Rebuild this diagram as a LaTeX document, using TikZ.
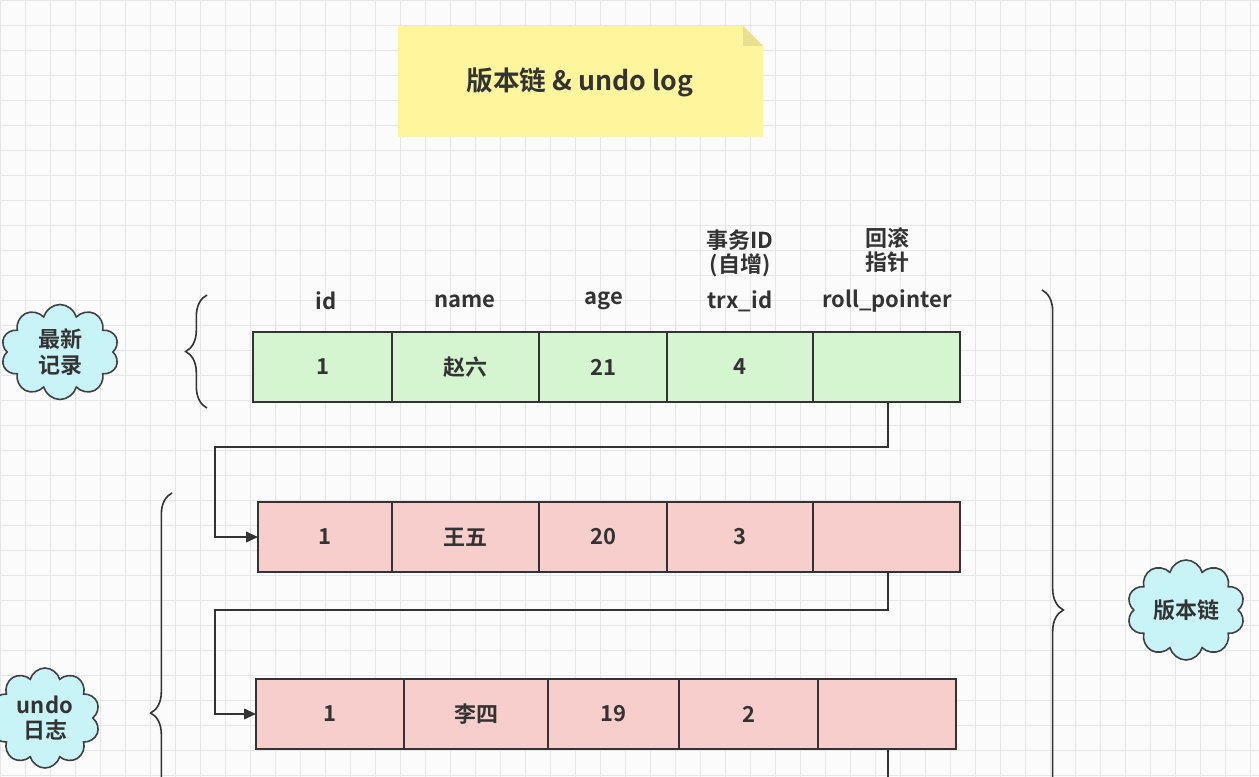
\documentclass[tikz,border=0pt]{standalone}
\usepackage{fontspec}
\setmainfont{Noto Sans CJK SC}[BoldFont={Noto Sans CJK SC Bold}]
\usetikzlibrary{shapes.symbols,decorations.pathreplacing,arrows.meta}
\definecolor{gridc}{HTML}{E6E6E6}
\definecolor{greenf}{HTML}{D5F5D0}
\definecolor{pinkf}{HTML}{F8CECC}
\definecolor{cloudf}{HTML}{C8F4F8}
\definecolor{notef}{HTML}{FFF59D}
\tikzset{
 cellg/.style={draw=black!80,line width=1pt,fill=greenf},
 cellp/.style={draw=black!80,line width=1pt,fill=pinkf},
 txt/.style={font=\fontsize{16.5}{19}\selectfont\bfseries,text=black!80,align=center},
 cl/.style={cloud,cloud puffs=10,aspect=1.2,draw=black!75,line width=1.2pt,fill=cloudf,txt,inner sep=1pt},
 conn/.style={draw=black!80,line width=1.3pt},
 brc/.style={draw=black!80,line width=1.2pt,decorate,decoration={brace,amplitude=16pt}}
}
\begin{document}
\begin{tikzpicture}[x=0.75pt,y=-0.75pt]
\useasboundingbox (0,0) rectangle (1259,777);
\clip (0,0) rectangle (1259,777);
\fill[white!97!gray] (0,0) rectangle (1259,777);
\foreach \x in {0,25,...,1275} \draw[gridc,line width=0.7pt] (\x,0) -- (\x,777);
\foreach \y in {0,25,...,800} \draw[gridc,line width=0.7pt] (0,\y) -- (1259,\y);
% note
\path[fill=notef] (398,26) -- (743,26) -- (763,46) -- (763,137) -- (398,137) -- cycle;
\path[fill=notef!70!black!30!notef] (743,26) -- (743,46) -- (763,46) -- cycle;
\node[txt,font=\fontsize{20}{24}\selectfont\bfseries] (title) at (580,82) {版本链 \& undo log};
% headers
\node[txt] (hid) at (326,301) {id};
\node[txt] (hname) at (465,301) {name};
\node[txt] (hage) at (604,301) {age};
\node[txt] (htrx) at (740,301) {trx\_id};
\node[txt] (hroll) at (887,301) {roll\_pointer};
\node[txt,font=\fontsize{16.5}{18}\selectfont\bfseries] (htrxc) at (740,253) {事务ID\\(自增)};
\node[txt,font=\fontsize{16.5}{18}\selectfont\bfseries] (hrollc) at (887,250) {回滚\\指针};
% rows
\newcommand{\myrow}[4]{%
 \foreach \a/\b/\t [count=\i] in {#3} {
  \path[#1] (\a,#2) rectangle (\b,#2+70);
  \node[txt] (#4\i) at ({(\a+\b)/2},#2+35) {\t};
 }}
\myrow{cellg}{332}{253/392/1,392/539/赵六,539/667/21,667/813/4,813/960/}{ra}
\myrow{cellp}{502}{258/392/1,392/539/王五,539/667/20,667/813/3,813/960/}{rb}
\myrow{cellp}{679}{256/404/1,404/548/李四,548/679/19,679/818/2,818/956/}{rc}
% connectors
\coordinate (a1) at (888,402);
\coordinate (b0) at (258,537);
\coordinate (b1) at (888,572);
\coordinate (c0) at (256,714);
\coordinate (c1) at (888,749);
\coordinate (cend) at (888,790);
\draw[conn,-{Triangle[length=9pt,width=8pt]}] (a1) -- (888,447) -- (215,447) |- (b0);
\draw[conn,-{Triangle[length=9pt,width=8pt]}] (b1) -- (888,610) -- (215,610) |- (c0);
\draw[conn] (c1) -- (cend);
% braces
\draw[brc] (207,408) -- (207,295);
\draw[brc] (172,933) -- (172,493);
\draw[brc] (1042,290) -- (1042,930);
% clouds
\node[cl,minimum width=118pt*0.75,minimum height=95pt*0.75] (c1n) at (60,352) {最新\\记录};
\node[cl,minimum width=118pt*0.75,minimum height=95pt*0.75] (c2n) at (1186,610) {版本链};
\node[cl,minimum width=110pt*0.75,minimum height=100pt*0.75] (c3n) at (45,718) {undo\\日志};
\end{tikzpicture}
\end{document}
